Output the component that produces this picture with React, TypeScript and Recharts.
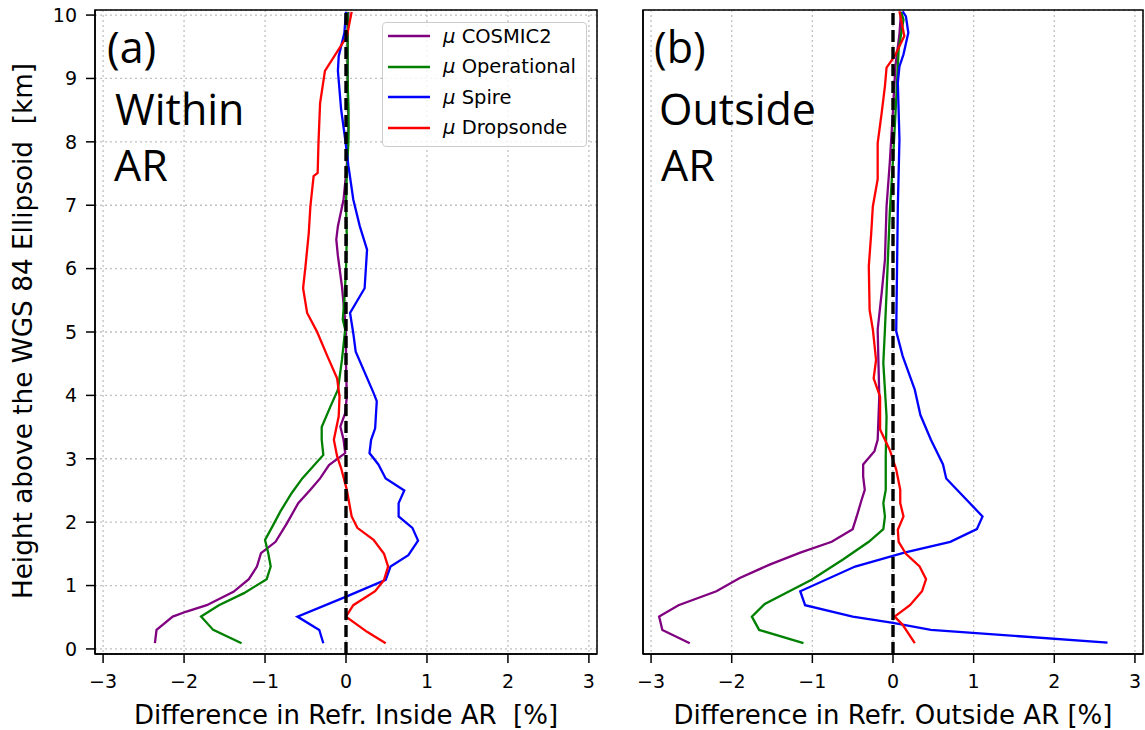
import React from 'react';
import {
  ScatterChart,
  Scatter,
  XAxis,
  YAxis,
  CartesianGrid,
  ReferenceLine,
  ReferenceArea,
  Legend,
  Label,
} from 'recharts';

// ---------- axes ----------
const X_TICKS = [-3, -2, -1, 0, 1, 2, 3];
const Y_TICKS = [0, 1, 2, 3, 4, 5, 6, 7, 8, 9, 10];
const X_DOMAIN: [number, number] = [-3.1, 3.1];
const Y_DOMAIN: [number, number] = [-0.08, 10.08];

const SERIES_NAMES = ['COSMIC2', 'Operational', 'Spire', 'Dropsonde'];
const SERIES_COLORS = ['#800080', '#008000', '#0000ff', '#ff0000'];

// ---------- panel (a): inside AR ----------
const aCosmicH = [0.09, 0.3, 0.51, 0.59, 0.69, 0.9, 1.1, 1.3, 1.51, 1.69, 1.98, 2.3, 2.51, 2.69, 2.9, 3.09, 3.3, 3.51, 3.72, 3.98, 4.5, 5.03, 5.72, 6.2, 6.46, 6.67, 7.09, 7.62, 8.2, 9.0, 9.6, 10.05];
const aCosmicX = [-2.36, -2.34, -2.14, -1.97, -1.72, -1.39, -1.2, -1.1, -1.05, -0.87, -0.73, -0.59, -0.44, -0.32, -0.21, -0.01, -0.03, -0.07, -0.01, 0.01, 0.0, 0.0, -0.05, -0.1, -0.12, -0.1, -0.03, 0.01, 0.03, 0.02, 0.02, 0.03];

const aOperH = [0.09, 0.3, 0.51, 0.69, 0.88, 1.1, 1.3, 1.51, 1.72, 1.93, 2.17, 2.46, 2.69, 3.06, 3.3, 3.5, 3.83, 4.09, 4.56, 5.04, 5.2, 5.5, 6.0, 6.5, 7.0, 7.5, 8.0, 8.5, 9.0, 9.5, 10.05];
const aOperX = [-1.29, -1.64, -1.79, -1.57, -1.26, -0.98, -0.93, -0.96, -1.0, -0.91, -0.81, -0.67, -0.54, -0.28, -0.3, -0.3, -0.19, -0.1, -0.05, -0.01, -0.04, -0.02, 0.0, 0.01, 0.0, 0.01, 0.03, 0.03, 0.02, 0.02, 0.02];

const aSpireH = [0.09, 0.3, 0.51, 0.83, 1.09, 1.3, 1.48, 1.71, 1.91, 2.09, 2.3, 2.5, 2.69, 2.91, 3.09, 3.3, 3.48, 3.91, 4.04, 4.69, 4.98, 5.3, 5.69, 6.3, 6.67, 7.09, 7.62, 8.04, 8.51, 9.12, 9.35, 9.72, 10.05];
const aSpireX = [-0.28, -0.33, -0.6, 0.01, 0.49, 0.55, 0.77, 0.89, 0.82, 0.65, 0.65, 0.72, 0.49, 0.4, 0.29, 0.31, 0.36, 0.38, 0.34, 0.12, 0.09, 0.05, 0.23, 0.26, 0.17, 0.09, 0.03, -0.01, -0.06, -0.1, -0.09, -0.02, 0.0];

const aDropH = [0.09, 0.27, 0.51, 0.69, 0.91, 1.09, 1.3, 1.5, 1.72, 1.91, 2.09, 2.51, 2.85, 3.04, 3.3, 3.67, 3.98, 4.27, 4.62, 4.83, 5.01, 5.3, 5.69, 6.04, 6.56, 6.98, 7.46, 7.51, 7.98, 8.61, 9.12, 9.66, 9.92, 10.05];
const aDropX = [0.49, 0.26, 0.0, 0.09, 0.36, 0.47, 0.52, 0.47, 0.34, 0.14, 0.07, 0.01, -0.06, -0.11, -0.15, -0.09, -0.08, -0.11, -0.23, -0.3, -0.36, -0.48, -0.53, -0.5, -0.46, -0.44, -0.4, -0.35, -0.34, -0.32, -0.26, 0.01, 0.05, 0.07];

// ---------- panel (b): outside AR ----------
const bCosmicH = [0.09, 0.3, 0.51, 0.69, 0.91, 1.12, 1.33, 1.52, 1.69, 1.89, 2.09, 2.35, 2.51, 2.72, 2.91, 3.12, 3.3, 3.98, 4.5, 5.04, 5.62, 6.14, 6.98, 7.67, 8.5, 9.2, 9.7, 10.05];
const bCosmicX = [-2.52, -2.86, -2.9, -2.66, -2.19, -1.9, -1.53, -1.15, -0.76, -0.5, -0.45, -0.39, -0.35, -0.37, -0.37, -0.23, -0.19, -0.17, -0.18, -0.19, -0.14, -0.1, -0.08, -0.04, 0.0, 0.03, 0.08, 0.1];

const bOperH = [0.09, 0.3, 0.51, 0.71, 1.09, 1.41, 1.69, 1.89, 2.09, 2.3, 2.51, 3.04, 3.67, 4.51, 5.04, 5.62, 6.88, 7.72, 8.67, 9.46, 9.93, 10.05];
const bOperX = [-1.11, -1.66, -1.75, -1.59, -1.01, -0.62, -0.3, -0.12, -0.1, -0.12, -0.09, -0.09, -0.08, -0.12, -0.1, -0.08, -0.04, 0.0, 0.04, 0.07, 0.13, 0.1];

const bSpireH = [0.1, 0.3, 0.41, 0.51, 0.69, 0.91, 1.3, 1.52, 1.69, 1.89, 2.09, 2.69, 2.91, 3.3, 3.69, 4.09, 4.62, 5.01, 6.98, 8.04, 8.93, 9.19, 9.38, 9.72, 9.98, 10.06];
const bSpireX = [2.66, 0.47, 0.0, -0.5, -1.09, -1.15, -0.47, 0.14, 0.71, 1.04, 1.11, 0.66, 0.62, 0.47, 0.34, 0.27, 0.12, 0.04, 0.06, 0.08, 0.06, 0.08, 0.13, 0.19, 0.16, 0.12];

const bDropH = [0.09, 0.38, 0.51, 0.69, 0.91, 1.1, 1.3, 1.5, 1.69, 1.88, 2.09, 2.3, 2.51, 2.83, 3.14, 3.46, 3.98, 4.27, 4.56, 5.04, 5.35, 6.04, 6.56, 6.98, 7.41, 7.98, 8.46, 8.88, 9.17, 9.35, 9.67, 9.93, 10.06];
const bDropX = [0.27, 0.12, 0.02, 0.21, 0.36, 0.41, 0.33, 0.16, 0.07, 0.06, 0.13, 0.09, 0.09, 0.04, -0.04, -0.16, -0.16, -0.24, -0.21, -0.25, -0.29, -0.3, -0.27, -0.25, -0.19, -0.19, -0.14, -0.1, -0.08, 0.02, 0.14, 0.1, 0.08];

const zip = (h: number[], x: number[]) => h.map((hh, i) => ({ h: hh, x: x[i] }));

const PANEL_A = [zip(aCosmicH, aCosmicX), zip(aOperH, aOperX), zip(aSpireH, aSpireX), zip(aDropH, aDropX)];
const PANEL_B = [zip(bCosmicH, bCosmicX), zip(bOperH, bOperX), zip(bSpireH, bSpireX), zip(bDropH, bDropX)];

const FONT = 'DejaVu Sans, Verdana, sans-serif';
const fmtX = (v: number) => (v < 0 ? '\u2212' + Math.abs(v) : String(v));

const NoShape = () => <g />;

const renderLegend = (props: any) => {
  const payload: any[] = props.payload || [];
  const items = SERIES_NAMES.map((name, i) => {
    const p = payload.find((q) => q.value === name);
    return { name, color: (p && p.color) || SERIES_COLORS[i] };
  });
  return (
    <div
      style={{
        position: 'relative',
        width: 205,
        height: 125,
        boxSizing: 'border-box',
        border: '1px solid #cccccc',
        borderRadius: 4,
        background: 'rgba(255,255,255,0.8)',
        fontFamily: FONT,
        fontSize: 19.5,
        color: '#000',
      }}
    >
      {items.map((it, i) => (
        <div
          key={it.name}
          style={{
            position: 'absolute',
            left: 5,
            top: i * 30.5 - 2,
            height: 30,
            display: 'flex',
            alignItems: 'center',
            whiteSpace: 'nowrap',
          }}
        >
          <svg width={42} height={4} style={{ display: 'block' }}>
            <line x1={0} x2={42} y1={2} y2={2} stroke={it.color} strokeWidth={2.5} />
          </svg>
          <span style={{ marginLeft: 13 }}>
            <i>μ</i> {it.name}
          </span>
        </div>
      ))}
    </div>
  );
};

type PanelProps = {
  left: number;
  width: number;
  marginRight: number;
  yWidth: number;
  showYLabels: boolean;
  xLabel: string;
  series: { h: number; x: number }[][];
  legend: boolean;
};

const Panel = ({ left, width, marginRight, yWidth, showYLabels, xLabel, series, legend }: PanelProps) => (
  <div style={{ position: 'absolute', left, top: 0, width, height: 730 }}>
    <ScatterChart width={width} height={730} margin={{ top: 10, right: marginRight, bottom: 0, left: 0 }}>
      <CartesianGrid stroke="#c0c0c0" strokeDasharray="2 3" strokeWidth={1.3} />
      <XAxis
        type="number"
        dataKey="x"
        domain={X_DOMAIN}
        allowDataOverflow
        ticks={X_TICKS}
        tickFormatter={fmtX}
        height={76}
        tickSize={9}
        tickMargin={12}
        axisLine={{ stroke: '#000', strokeWidth: 1.5 }}
        tickLine={{ stroke: '#000', strokeWidth: 1.5 }}
        tick={{ fill: '#000', fontSize: 19, fontFamily: FONT }}
        interval={0}
      >
        <Label
          content={(p: any) => {
            const vb = p.viewBox || {};
            const cx = vb.width ? vb.x + vb.width / 2 : (width - yWidth) / 2 + yWidth;
            return (
              <text
                x={cx}
                y={724}
                textAnchor="middle"
                fontFamily={FONT}
                fontSize={26}
                fill="#000"
                style={{ whiteSpace: 'pre' }}
              >
                {xLabel}
              </text>
            );
          }}
        />
      </XAxis>
      <YAxis
        type="number"
        dataKey="h"
        domain={Y_DOMAIN}
        allowDataOverflow
        ticks={Y_TICKS}
        width={yWidth}
        tickSize={9}
        tickMargin={9}
        axisLine={{ stroke: '#000', strokeWidth: 1.5 }}
        tickLine={{ stroke: '#000', strokeWidth: 1.5 }}
        tick={showYLabels ? { fill: '#000', fontSize: 19, fontFamily: FONT } : false}
        interval={0}
      >
        {showYLabels && (
          <Label
            content={() => (
              <text
                x={32}
                y={331}
                transform="rotate(-90 32 331)"
                textAnchor="middle"
                fontFamily={FONT}
                fontSize={26.3}
                fill="#000"
                style={{ whiteSpace: 'pre' }}
              >
                {'Height above the WGS 84 Ellipsoid  [km]'}
              </text>
            )}
          />
        )}
      </YAxis>
      {series.map((d, i) => (
        <Scatter
          key={SERIES_NAMES[i]}
          name={SERIES_NAMES[i]}
          data={d}
          fill={SERIES_COLORS[i]}
          line={{ stroke: SERIES_COLORS[i], strokeWidth: 2.3 }}
          lineJointType="linear"
          shape={NoShape}
          isAnimationActive={false}
        />
      ))}
      <ReferenceLine
        x={0}
        stroke="#000"
        strokeWidth={3.4}
        strokeDasharray="12 5"
        zIndex={1000}
      />
      <ReferenceArea
        x1={X_DOMAIN[0]}
        x2={X_DOMAIN[1]}
        y1={Y_DOMAIN[0]}
        y2={Y_DOMAIN[1]}
        fill="none"
        fillOpacity={0}
        stroke="#000"
        strokeWidth={1.5}
        ifOverflow="visible"
      />
      {legend && (
        <Legend
          layout="vertical"
          align="center"
          verticalAlign="middle"
          content={renderLegend}
          wrapperStyle={{ position: 'absolute', left: 382, top: 22, width: 205, height: 125 }}
        />
      )}
    </ScatterChart>
  </div>
);

const ANNOT_FONT = 'Open Sans, Lato, sans-serif';

export default function App() {
  return (
    <div style={{ position: 'absolute', left: 0, top: 0, width: 1145, height: 730, background: '#fff' }}>
      <Panel
        left={0}
        width={600}
        marginRight={3}
        yWidth={95}
        showYLabels
        xLabel={'Difference in Refr. Inside AR  [%]'}
        series={PANEL_A}
        legend
      />
      <Panel
        left={600}
        width={545}
        marginRight={2}
        yWidth={43}
        showYLabels={false}
        xLabel={'Difference in Refr. Outside AR [%]'}
        series={PANEL_B}
        legend={false}
      />
      <svg
        width={1145}
        height={730}
        style={{ position: 'absolute', left: 0, top: 0, pointerEvents: 'none' }}
      >
        <g fontFamily={ANNOT_FONT} fontSize={43} fill="#000">
          <text x={107} y={63}>(a)</text>
          <text x={115} y={125}>Within</text>
          <text x={114} y={181}>AR</text>
          <text x={654} y={63}>(b)</text>
          <text x={659} y={125}>Outside</text>
          <text x={661} y={181}>AR</text>
        </g>
      </svg>
    </div>
  );
}
